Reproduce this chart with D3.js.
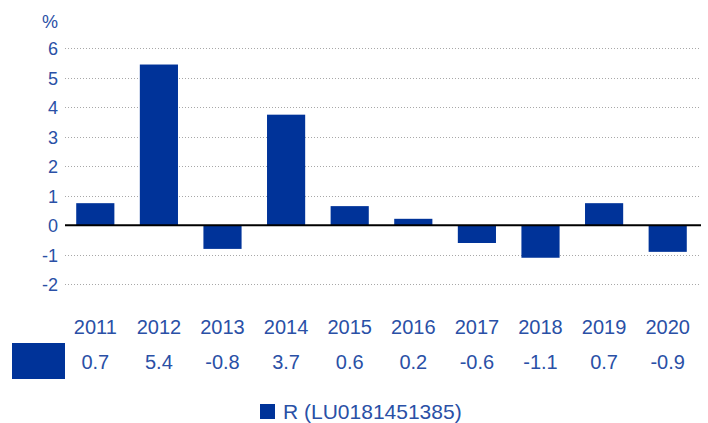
<!DOCTYPE html>
<html>
<head>
<meta charset="utf-8">
<script src="https://cdn.jsdelivr.net/npm/d3@7"></script>
<style>
  body { margin: 0; background: #fff; }
  text { font-family: "Liberation Sans", Arial, sans-serif; fill: #2a50a6; }
</style>
</head>
<body>
<script>
var years = ["2011", "2012", "2013", "2014", "2015", "2016", "2017", "2018", "2019", "2020"];
var returns = [0.75, 5.45, -0.8, 3.75, 0.65, 0.22, -0.6, -1.1, 0.75, -0.9];
var returnLabels = ["0.7", "5.4", "-0.8", "3.7", "0.6", "0.2", "-0.6", "-1.1", "0.7", "-0.9"];
var yTicks = [-2, -1, 0, 1, 2, 3, 4, 5, 6];
var seriesName = "R (LU0181451385)";

var width = 708, height = 423;
var barColor = "#003399";

var svg = d3.select("body").append("svg")
  .attr("width", width)
  .attr("height", height);

var x = d3.scaleBand()
  .domain(years)
  .range([63.5, 699.5])
  .paddingInner(0.4)
  .paddingOuter(0.2);

var y = d3.scaleLinear()
  .domain([-2, 6])
  .range([284.3, 48.3]);

// dotted gridlines
svg.append("g")
  .selectAll("line")
  .data(yTicks.filter(function(d) { return d !== 0; }))
  .enter().append("line")
  .attr("x1", 65).attr("x2", 701)
  .attr("y1", function(d) { return Math.round(y(d)) + 0.5; })
  .attr("y2", function(d) { return Math.round(y(d)) + 0.5; })
  .attr("stroke", "#a8a8a8")
  .attr("stroke-width", 1)
  .attr("stroke-dasharray", "1,2");

// y axis labels (plain hyphen for negatives)
var yAxis = d3.axisLeft(y)
  .tickValues(yTicks)
  .tickFormat(function(d) { return String(d); })
  .tickSize(0).tickPadding(0);
var yg = svg.append("g")
  .attr("transform", "translate(58,0)")
  .call(yAxis);
yg.select(".domain").remove();
yg.selectAll("text")
  .attr("dy", "0.36em")
  .style("font-size", "18px")
  .attr("fill", "#2a50a6");

svg.append("text")
  .attr("x", 58).attr("y", 28)
  .attr("text-anchor", "end")
  .style("font-size", "18px")
  .text("%");

// bars
svg.append("g")
  .selectAll("rect")
  .data(returns)
  .enter().append("rect")
  .attr("x", function(d, i) { return x(years[i]); })
  .attr("width", x.bandwidth())
  .attr("y", function(d) { return y(Math.max(0, d)); })
  .attr("height", function(d) { return Math.abs(y(d) - y(0)); })
  .attr("fill", barColor);

// zero line
svg.append("line")
  .attr("x1", 65).attr("x2", 701)
  .attr("y1", y(0)).attr("y2", y(0))
  .attr("stroke", "#000")
  .attr("stroke-width", 2);

// data table below
var cx = function(d) { return x(d) + x.bandwidth() / 2; };

svg.append("g")
  .selectAll("text")
  .data(years)
  .enter().append("text")
  .attr("x", cx)
  .attr("y", 334)
  .attr("text-anchor", "middle")
  .style("font-size", "20px")
  .text(function(d) { return d; });

svg.append("g")
  .selectAll("text")
  .data(returnLabels)
  .enter().append("text")
  .attr("x", function(d, i) { return cx(years[i]); })
  .attr("y", 369)
  .attr("text-anchor", "middle")
  .style("font-size", "20px")
  .text(function(d) { return d; });

svg.append("rect")
  .attr("x", 12).attr("y", 343)
  .attr("width", 53).attr("height", 36)
  .attr("fill", barColor);

// legend
svg.append("rect")
  .attr("x", 260).attr("y", 404)
  .attr("width", 15).attr("height", 15)
  .attr("fill", barColor);

svg.append("text")
  .attr("x", 283).attr("y", 418.5)
  .style("font-size", "21px")
  .text(seriesName);
</script>
</body>
</html>
